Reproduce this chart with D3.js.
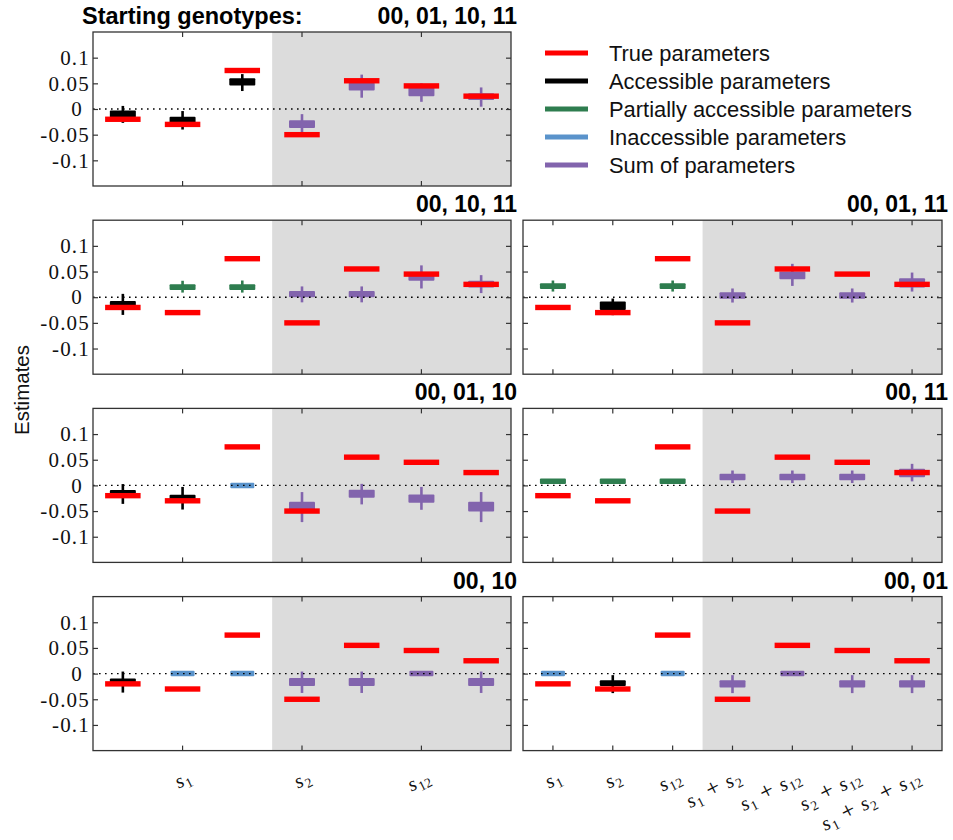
<!DOCTYPE html>
<html><head><meta charset="utf-8">
<script src="https://cdn.jsdelivr.net/npm/d3@7"></script>
<style>body{margin:0;background:#fff}svg{display:block}</style>
</head><body><svg id="c" width="953" height="840"></svg>
<script>
// ---------- data ----------
const categories = ["s1", "s2", "s12", "s1 + s2", "s1 + s12", "s2 + s12", "s1 + s2 + s12"];
const leftTickIdx = [1, 3, 5];
const leftTickLabels = ["s1", "s2", "s12"];
const yTickValues = [0.1, 0.05, 0, -0.05, -0.1];
const yTickLabels = ["0.1", "0.05", "0", "-0.05", "-0.1"];
const trueValues = [-0.02, -0.03, 0.075, -0.05, 0.055, 0.045, 0.025];
const panelTitles = ["00, 01, 10, 11", "00, 10, 11", "00, 01, 11", "00, 01, 10", "00, 11", "00, 10", "00, 01"];
const legendLabels = ["True parameters", "Accessible parameters", "Partially accessible parameters", "Inaccessible parameters", "Sum of parameters"];
const legendKinds = ["true", "acc", "part", "inacc", "sum"];

// each estimate: [kind, boxLow, boxHigh, whiskerLow, whiskerHigh]
const est_00_01_10_11 = [
  ["acc", -0.017, -0.003, -0.027, 0.006],
  ["acc", -0.028, -0.015, -0.040, -0.004],
  ["acc", 0.046, 0.060, 0.035, 0.068],
  ["sum", -0.037, -0.022, -0.046, -0.010],
  ["sum", 0.036, 0.051, 0.022, 0.067],
  ["sum", 0.025, 0.046, 0.014, 0.050],
  ["sum", 0.0175, 0.0305, 0.0045, 0.042]
];
const est_00_10_11 = [
  ["acc", -0.018, -0.008, -0.0345, 0.0065],
  ["part", 0.014, 0.025, 0.009, 0.032],
  ["part", 0.014, 0.025, 0.009, 0.0325],
  ["sum", 0.0, 0.012, -0.010, 0.021],
  ["sum", 0.0, 0.012, -0.010, 0.021],
  ["sum", 0.032, 0.045, 0.017, 0.062],
  ["sum", 0.019, 0.032, 0.008, 0.043]
];
const est_00_01_11 = [
  ["part", 0.016, 0.027, 0.011, 0.0325],
  ["acc", -0.025, -0.0085, -0.035, -0.0026],
  ["part", 0.016, 0.027, 0.011, 0.0325],
  ["sum", -0.003, 0.0098, -0.0104, 0.017],
  ["sum", 0.035, 0.050, 0.022, 0.065],
  ["sum", -0.003, 0.0098, -0.0104, 0.017],
  ["sum", 0.019, 0.037, 0.011, 0.048]
];
const est_00_01_10 = [
  ["acc", -0.022, -0.009, -0.036, 0.0026],
  ["acc", -0.032, -0.018, -0.047, -0.003],
  ["inacc", 0, 0, 0, 0],
  ["sum", -0.050, -0.032, -0.0715, -0.013],
  ["sum", -0.024, -0.0085, -0.037, 0.003],
  ["sum", -0.034, -0.0175, -0.0475, -0.003],
  ["sum", -0.051, -0.032, -0.0715, -0.013]
];
const est_00_11 = [
  ["part", 0.0033, 0.013, 0.0033, 0.013],
  ["part", 0.0033, 0.013, 0.0033, 0.013],
  ["part", 0.0033, 0.013, 0.0033, 0.013],
  ["sum", 0.0098, 0.0228, 0.0046, 0.029],
  ["sum", 0.0098, 0.0228, 0.0046, 0.029],
  ["sum", 0.0098, 0.0228, 0.0046, 0.029],
  ["sum", 0.016, 0.0325, 0.0078, 0.042]
];
const est_00_10 = [
  ["acc", -0.020, -0.0098, -0.037, 0.004],
  ["inacc", 0, 0, 0, 0],
  ["inacc", 0, 0, 0, 0],
  ["sum", -0.024, -0.0085, -0.0377, 0.004],
  ["sum", -0.024, -0.0085, -0.0377, 0.004],
  ["sum", 0, 0, 0, 0],
  ["sum", -0.024, -0.0085, -0.0377, 0.004]
];
const est_00_01 = [
  ["inacc", 0, 0, 0, 0],
  ["acc", -0.024, -0.013, -0.038, -0.003],
  ["inacc", 0, 0, 0, 0],
  ["sum", -0.0273, -0.013, -0.038, -0.003],
  ["sum", 0, 0, 0, 0],
  ["sum", -0.0273, -0.013, -0.038, -0.003],
  ["sum", -0.0273, -0.013, -0.038, -0.003]
];

// ---------- styles / layout ----------
const colors = {true: "#ff0000", acc: "#000000", part: "#2e7d4f", inacc: "#5a93cb", sum: "#8264ad"};
const serif = "'Liberation Serif', 'Times New Roman', serif";
const sans = "'Liberation Sans', Arial, Helvetica, sans-serif";
const H = 154;
const rowTop = r => 32 + r * 188.2;
const cols = [[93, 511], [523, 942]];
const panels = [
  {title: panelTitles[0], est: est_00_01_10_11, col: 0, row: 0},
  {title: panelTitles[1], est: est_00_10_11, col: 0, row: 1},
  {title: panelTitles[2], est: est_00_01_11, col: 1, row: 1},
  {title: panelTitles[3], est: est_00_01_10, col: 0, row: 2},
  {title: panelTitles[4], est: est_00_11, col: 1, row: 2},
  {title: panelTitles[5], est: est_00_10, col: 0, row: 3},
  {title: panelTitles[6], est: est_00_01, col: 1, row: 3}
];

const svg = d3.select("#c");
svg.append("rect").attr("width", 953).attr("height", 840).attr("fill", "#fff");

function mathLabel(sel, str, fs) {
  const terms = str.split(" + ");
  let pendingDy = 0;
  terms.forEach((t, k) => {
    if (k > 0) {
      sel.append("tspan").attr("font-style", "normal").attr("font-size", fs * 1.2)
        .attr("dx", 7).attr("dy", pendingDy).text("+");
      pendingDy = 0;
    }
    sel.append("tspan").attr("font-style", "italic").attr("font-size", fs)
      .attr("dx", k > 0 ? 7 : 0).attr("dy", pendingDy).text(t[0]);
    sel.append("tspan").attr("font-size", fs * 0.68).attr("font-style", "normal").attr("dx", 1).attr("dy", 4).text(t.slice(1));
    pendingDy = -4;
  });
}

panels.forEach(p => {
  const [x0, x1] = cols[p.col];
  const top = rowTop(p.row);
  const x = d3.scaleBand().domain(d3.range(categories.length)).range([x0, x1]).padding(0);
  const y = d3.scaleLinear().domain([-0.15, 0.15]).range([top + H, top]);
  const g = svg.append("g");
  const cx = i => x(i) + x.bandwidth() / 2;

  // shading
  g.append("rect").attr("x", x(3)).attr("y", top).attr("width", x1 - x(3)).attr("height", H).attr("fill", "#dcdcdc");

  // estimates
  p.est.forEach((e, i) => {
    const [kind, q1, q3, lo, hi] = e;
    const c = colors[kind];
    if (hi > lo && (hi > q3 || lo < q1)) {
      g.append("line").attr("x1", cx(i)).attr("x2", cx(i)).attr("y1", y(hi)).attr("y2", y(lo))
        .attr("stroke", c).attr("stroke-width", 2.6);
    }
    let yt = y(q3), yb = y(q1);
    const minH = 5.5;
    if (yb - yt < minH) { const m = (yt + yb) / 2; yt = m - minH / 2; yb = m + minH / 2; }
    const w = kind === "inacc" || (q1 === 0 && q3 === 0) ? 24 : 26;
    g.append("rect").attr("x", cx(i) - w / 2).attr("y", yt).attr("width", w).attr("height", yb - yt)
      .attr("fill", c).attr("rx", 1);
  });

  // true parameters
  trueValues.forEach((v, i) => {
    g.append("rect").attr("x", cx(i) - 17.75).attr("y", y(v) - 2.7).attr("width", 35.5).attr("height", 5.4)
      .attr("fill", colors.true);
  });

  // zero line
  g.append("line").attr("x1", x0).attr("x2", x1).attr("y1", y(0)).attr("y2", y(0))
    .attr("stroke", "#000").attr("stroke-width", 1.4).attr("stroke-dasharray", "1.6,4.4");

  // axes
  const tickIdx = p.col === 0 ? leftTickIdx : d3.range(categories.length);
  const axStyle = a => { a.select(".domain").remove(); a.selectAll("line").attr("stroke", "#333").attr("stroke-width", 1.2); };
  g.append("g").attr("transform", `translate(0,${top + H})`)
    .call(d3.axisBottom(x).tickValues(tickIdx).tickSize(-5).tickFormat(""))
    .call(axStyle);
  g.append("g").attr("transform", `translate(0,${top})`)
    .call(d3.axisTop(x).tickValues(tickIdx).tickSize(-5).tickFormat(""))
    .call(axStyle);
  const yl = g.append("g").attr("transform", `translate(${x0},0)`)
    .call(d3.axisLeft(y).tickValues(yTickValues).tickSize(-5).tickPadding(8)
      .tickFormat((d, k) => p.col === 0 ? yTickLabels[k] : ""))
    .call(axStyle);
  yl.selectAll("text").attr("font-family", serif).attr("font-size", 21).attr("fill", "#111")
    .attr("letter-spacing", 1.2).attr("x", -3)
    .attr("dx", d => d === 0 ? -7 : 0);
  g.append("g").attr("transform", `translate(${x1},0)`)
    .call(d3.axisRight(y).tickValues(yTickValues).tickSize(-5).tickFormat(""))
    .call(axStyle);

  // frame
  g.append("rect").attr("x", x0).attr("y", top).attr("width", x1 - x0).attr("height", H)
    .attr("fill", "none").attr("stroke", "#333").attr("stroke-width", 1.3);

  // title
  g.append("text").attr("x", x1 + 6).attr("y", top - 8).attr("text-anchor", "end")
    .attr("font-family", sans).attr("font-weight", "bold").attr("font-size", 23).attr("fill", "#000")
    .text(p.title);

  // bottom labels
  if (p.row === 3) {
    const labs = p.col === 0 ? leftTickLabels : categories;
    labs.forEach((lab, k) => {
      const i = tickIdx[k];
      const t = g.append("text").attr("font-family", serif).attr("fill", "#111").attr("text-anchor", "end")
        .attr("transform", `translate(${cx(i) + 10},${top + H + 31}) rotate(-27)`);
      mathLabel(t, lab, 20);
    });
  }
});

// overall title
svg.append("text").attr("x", 82).attr("y", 24).attr("font-family", sans).attr("font-weight", "bold")
  .attr("font-size", 23.5).attr("fill", "#000").text("Starting genotypes:");

// y label
svg.append("text").attr("transform", "translate(29,390) rotate(-90)").attr("text-anchor", "middle")
  .attr("font-family", sans).attr("font-size", 20.5).attr("fill", "#111").text("Estimates");

// legend
const lg = svg.append("g");
legendLabels.forEach((lab, k) => {
  const yy = 53 + k * 28;
  lg.append("line").attr("x1", 545).attr("x2", 588).attr("y1", yy).attr("y2", yy)
    .attr("stroke", colors[legendKinds[k]]).attr("stroke-width", 5);
  lg.append("text").attr("x", 609).attr("y", yy).attr("dy", "0.35em").attr("font-family", sans)
    .attr("font-size", 21.9).attr("fill", "#111").text(lab);
});
</script></body></html>
